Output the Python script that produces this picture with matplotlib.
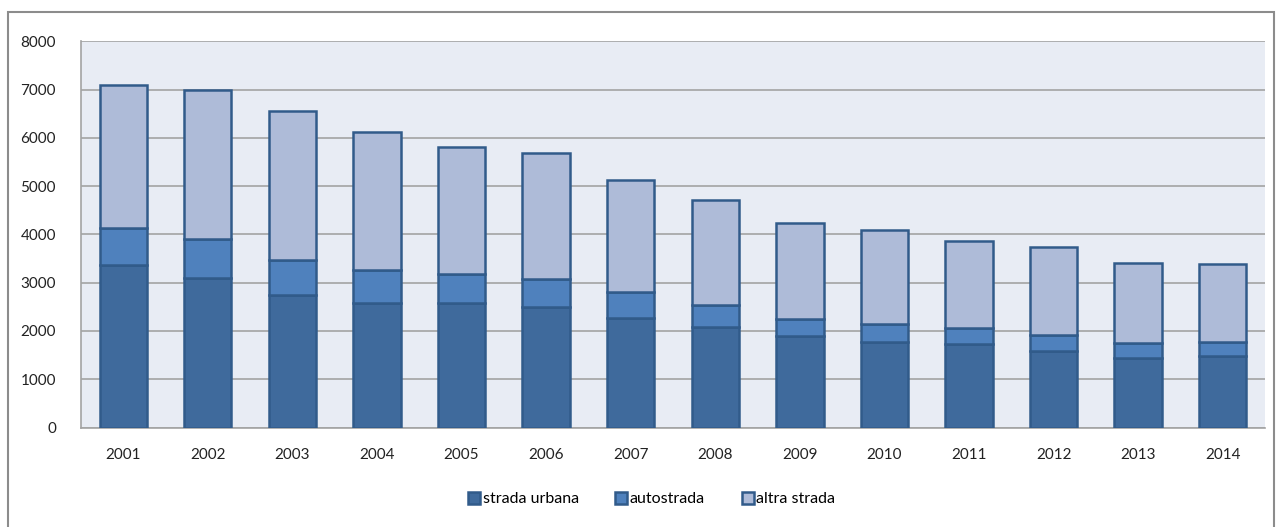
import numpy as np
import matplotlib
matplotlib.use("Agg")
import matplotlib.pyplot as plt
from matplotlib.patches import Rectangle

# -*- dati
anni = ["2001", "2002", "2003", "2004", "2005", "2006", "2007",
        "2008", "2009", "2010", "2011", "2012", "2013", "2014"]
strada_urbana = [3360, 3100, 2755, 2590, 2585, 2505, 2265,
                 2080, 1900, 1770, 1725, 1590, 1440, 1490]
autostrada = [765, 805, 720, 665, 590, 580, 540,
              450, 345, 380, 345, 325, 310, 285]
altra_strada = [2965, 3085, 3085, 2875, 2635, 2600, 2315,
                2190, 1990, 1950, 1785, 1835, 1655, 1605]

plt.rcParams["font.family"] = ["Lato", "DejaVu Sans"]

fig = plt.figure(figsize=(12.81, 5.27), dpi=100)
ax = fig.add_axes([0.0632, 0.1888, 0.9243, 0.7325])

# bordo esterno grigio
fig.patches.append(Rectangle((8 / 1281, -0.02), 1266 / 1281, 1.02 - 12 / 527,
                             transform=fig.transFigure, fill=False,
                             edgecolor="#8c8c8c", linewidth=1.5))

ax.set_facecolor("#E8ECF4")
x = np.arange(len(anni))
w = 0.56
edge = "#315B8A"
u = np.array(strada_urbana)
a = np.array(autostrada)
s = np.array(altra_strada)
ax.bar(x, u, w, color="#3F6A9C", edgecolor=edge, linewidth=1.8, label="strada urbana", zorder=3)
ax.bar(x, a, w, bottom=u, color="#4F81BD", edgecolor=edge, linewidth=1.8, label="autostrada", zorder=3)
ax.bar(x, s, w, bottom=u + a, color="#AEBBD8", edgecolor=edge, linewidth=1.8, label="altra strada", zorder=3)

ax.set_xlim(-0.5, len(anni) - 0.5)
ax.set_ylim(0, 8000)
ax.set_yticks(np.arange(0, 8001, 1000))
ax.set_xticks(x)
ax.set_xticklabels(anni)
ax.yaxis.grid(True, color="#a3a3a3", linewidth=1.2, zorder=0)
ax.set_axisbelow(True)
for sp in ["top", "right"]:
    ax.spines[sp].set_visible(False)
for sp in ["left", "bottom"]:
    ax.spines[sp].set_color("#a3a3a3")
    ax.spines[sp].set_linewidth(1.2)
ax.tick_params(axis="both", length=0, labelsize=11, colors="#222222")
ax.tick_params(axis="y", pad=18)
ax.tick_params(axis="x", pad=15)

leg = ax.legend(loc="upper center", bbox_to_anchor=(0.482, -0.13), ncol=3,
                frameon=False, fontsize=11.5, handlelength=0.75, handleheight=0.75,
                handletextpad=0.15, columnspacing=2.3)

fig.savefig("out.png", dpi=100)
